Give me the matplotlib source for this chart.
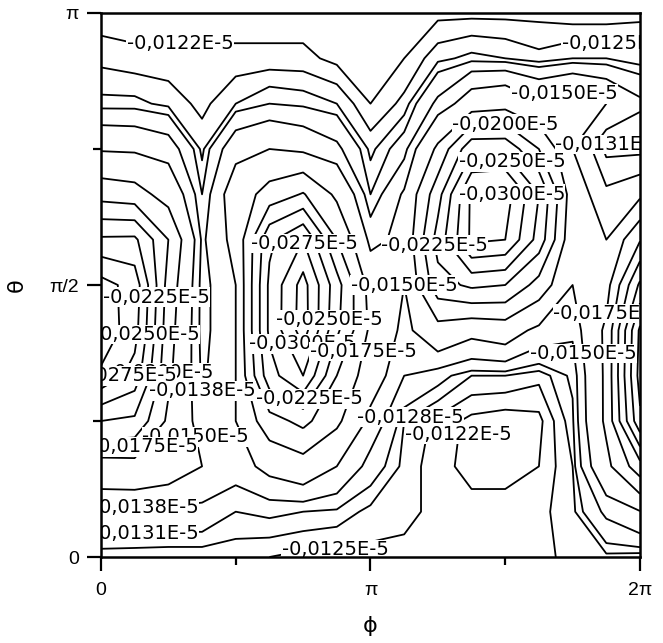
import matplotlib
matplotlib.use("Agg")
import matplotlib.pyplot as plt
import numpy as np

plt.rcParams['font.family'] = ['Liberation Sans', 'DejaVu Sans']

# grid: phi in steps of pi/8, theta in steps of pi/12 (rows listed from theta=pi down to 0)
phi = np.arange(17) * np.pi / 8
theta = np.arange(12, -1, -1) * np.pi / 12

# field values in units of 1E-5
z_rows = [
    [-0.0120, -0.0120, -0.0120, -0.0120, -0.0120, -0.0120, -0.0120, -0.0120, -0.0120, -0.0120, -0.0121, -0.0121, -0.0121, -0.0121, -0.0120, -0.0120, -0.0121],
    [-0.0124, -0.0123, -0.0123, -0.0123, -0.0123, -0.0123, -0.0123, -0.0121, -0.0121, -0.0122, -0.0127, -0.0129, -0.0128, -0.0126, -0.0128, -0.0128, -0.0126],
    [-0.0129, -0.0129, -0.0127, -0.0124, -0.0128, -0.0131, -0.0130, -0.0128, -0.0122, -0.0126, -0.0140, -0.0160, -0.0165, -0.0152, -0.0158, -0.0150, -0.0140],
    [-0.0148, -0.0147, -0.0143, -0.0127, -0.0145, -0.0150, -0.0146, -0.0140, -0.0127, -0.0134, -0.0180, -0.0243, -0.0243, -0.0200, -0.0150, -0.0129, -0.0129],
    [-0.0190, -0.0185, -0.0165, -0.0131, -0.0160, -0.0185, -0.0202, -0.0170, -0.0131, -0.0152, -0.0215, -0.0305, -0.0312, -0.0250, -0.0160, -0.0140, -0.0145],
    [-0.0254, -0.0255, -0.0200, -0.0136, -0.0155, -0.0245, -0.0275, -0.0200, -0.0145, -0.0155, -0.0235, -0.0305, -0.0300, -0.0240, -0.0155, -0.0150, -0.0198],
    [-0.0310, -0.0290, -0.0190, -0.0134, -0.0150, -0.0255, -0.0310, -0.0235, -0.0165, -0.0150, -0.0215, -0.0230, -0.0225, -0.0190, -0.0150, -0.0165, -0.0255],
    [-0.0318, -0.0285, -0.0185, -0.0134, -0.0150, -0.0255, -0.0312, -0.0230, -0.0170, -0.0145, -0.0165, -0.0155, -0.0160, -0.0145, -0.0140, -0.0180, -0.0305],
    [-0.0295, -0.0265, -0.0180, -0.0136, -0.0150, -0.0240, -0.0275, -0.0200, -0.0160, -0.0138, -0.0133, -0.0128, -0.0128, -0.0126, -0.0132, -0.0180, -0.0310],
    [-0.0225, -0.0220, -0.0170, -0.0142, -0.0150, -0.0190, -0.0207, -0.0180, -0.0145, -0.0128, -0.0124, -0.0121, -0.0120, -0.0121, -0.0130, -0.0180, -0.0295],
    [-0.0163, -0.0165, -0.0160, -0.0150, -0.0143, -0.0155, -0.0163, -0.0150, -0.0134, -0.0127, -0.0123, -0.0121, -0.0121, -0.0122, -0.0128, -0.0168, -0.0215],
    [-0.0137, -0.0136, -0.0135, -0.0135, -0.0131, -0.0132, -0.0131, -0.0130, -0.0127, -0.0126, -0.0124, -0.0123, -0.0123, -0.0124, -0.0127, -0.0140, -0.0149],
    [-0.0126, -0.0126, -0.0126, -0.0126, -0.0126, -0.0125, -0.0124, -0.0124, -0.0124, -0.0124, -0.0123, -0.0123, -0.0123, -0.0124, -0.0126, -0.0127, -0.0126],
]

levels = [-0.0300, -0.0275, -0.0250, -0.0225, -0.0200, -0.0175, -0.0150,
          -0.0138, -0.0131, -0.0128, -0.0125, -0.0122]

# where labels sit (phi/pi, theta/pi) and which level
label_levels = [-0.0122, -0.0125, -0.0150, -0.0200, -0.0131, -0.0250, -0.0300,
                -0.0275, -0.0225, -0.0150, -0.0225, -0.0250, -0.0175, -0.0250,
                -0.0300, -0.0175, -0.0150, -0.0200, -0.0275, -0.0225, -0.0138,
                -0.0150, -0.0175, -0.0128, -0.0122, -0.0138, -0.0131, -0.0125]
label_pos = [(0.293, 0.950), (1.907, 0.941), (1.722, 0.844), (1.499, 0.812),
             (1.870, 0.812), (1.555, 0.739), (1.555, 0.669), (0.794, 0.583),
             (1.276, 0.577), (1.091, 0.518), (0.182, 0.478), (0.868, 0.436),
             (1.852, 0.449), (0.182, 0.408), (0.738, 0.390), (1.035, 0.371),
             (1.852, 0.377), (0.200, 0.340), (0.108, 0.311), (0.738, 0.303),
             (0.516, 0.261), (0.293, 0.215), (0.174, 0.197), (1.154, 0.252),
             (1.358, 0.224), (0.163, 0.090), (0.163, 0.059), (0.868, 0.035)]


def fmt(v):
    return f"{v:.4f}".replace(".", ",") + "E-5"


def main():
    z = np.array(z_rows)[::-1]
    th = theta[::-1]

    fig = plt.figure(figsize=(6.63, 6.43), dpi=100)
    ax = fig.add_axes([0.1523, 0.1337, 0.813, 0.8461])

    ax.contour(phi, th, z, levels=levels, colors='black', linewidths=1.3,
               linestyles='solid')

    # labels: horizontal, on a white box, like the original software
    for lev, (px, py) in zip(label_levels, label_pos):
        one = ax.contour(phi, th, z, levels=[lev], colors='none')
        texts = one.clabel(manual=[(px * np.pi, py * np.pi)], inline=False,
                           fmt=fmt, fontsize=14, colors='black', zorder=2.4)
        for t in texts:
            t.set_rotation(0)
            t.set_family('DejaVu Sans')
            t.set_bbox(dict(facecolor='white', edgecolor='none', pad=0.3))
            t.set_clip_path(ax.patch)

    ax.set_xlim(0, 2 * np.pi)
    ax.set_ylim(0, np.pi)
    ax.set_xticks([0, np.pi, 2 * np.pi])
    ax.set_xticklabels(['0', 'π', '2π'])
    ax.set_xticks([np.pi / 2, 3 * np.pi / 2], minor=True)
    ax.set_yticks([0, np.pi / 2, np.pi])
    ax.set_yticklabels(['0', 'π/2', 'π'])
    ax.set_yticks([np.pi / 4, 3 * np.pi / 4], minor=True)
    ax.tick_params(which='both', direction='out', width=1.6, labelsize=14,
                   top=False, right=False)
    ax.tick_params(axis='x', which='major', length=10, pad=8)
    ax.tick_params(axis='y', which='major', length=10, pad=6)
    ax.tick_params(which='minor', length=6)
    for s in ax.spines.values():
        s.set_linewidth(1.8)

    ax.set_xlabel('ϕ', fontsize=16, labelpad=12, family='DejaVu Sans')
    ax.set_ylabel('θ', fontsize=16, labelpad=16, family='DejaVu Sans')

    fig.savefig('out.png', dpi=100)


if __name__ == '__main__':
    main()
